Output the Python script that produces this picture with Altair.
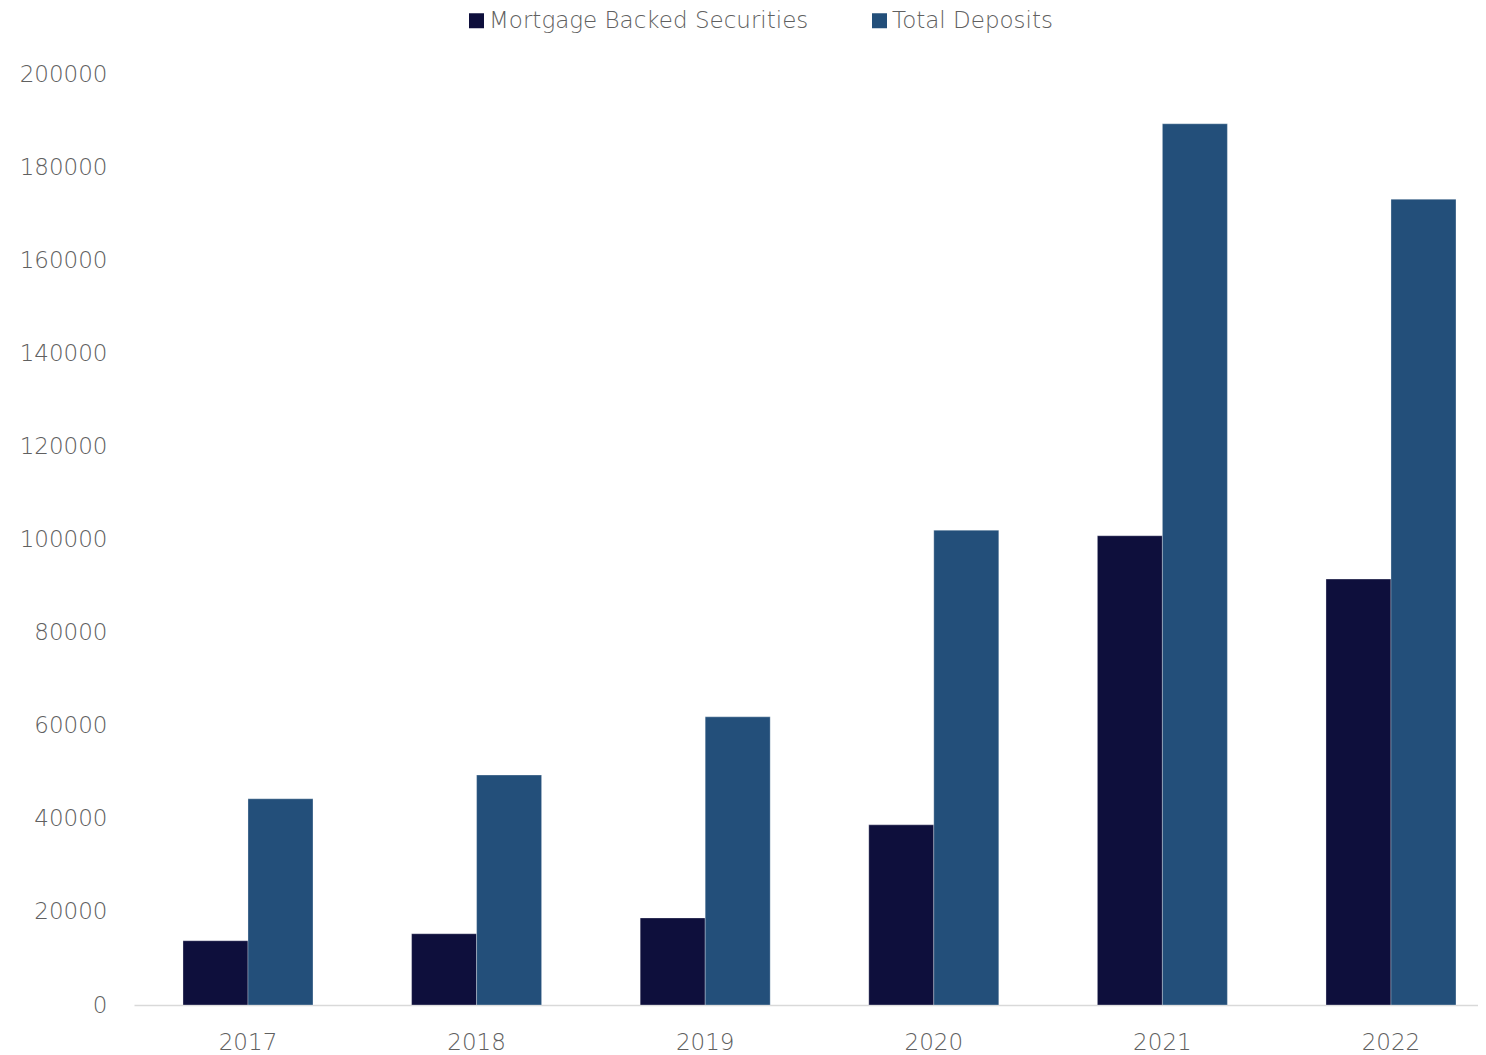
import altair as alt
import pandas as pd

years = ["2017", "2018", "2019", "2020", "2021", "2022"]
mbs = [13800, 15300, 18700, 38700, 100800, 91500]
deposits = [44300, 49400, 61900, 102000, 189300, 173100]
series = ["Mortgage Backed Securities", "Total Deposits"]
colors = ["#0E0F3C", "#234F7A"]
y_ticks = [0, 20000, 40000, 60000, 80000, 100000, 120000, 140000, 160000, 180000, 200000]

rows = []
for i, yr in enumerate(years):
    rows.append({"year": yr, "series": series[0], "value": mbs[i]})
    rows.append({"year": yr, "series": series[1], "value": deposits[i]})
df = pd.DataFrame(rows)

FONT = "DejaVu Sans"
TXT = "#606060"
FS = 23

chart = alt.Chart(df).mark_bar(stroke="#ffffff", strokeWidth=0.6, strokeOpacity=0.5).encode(
    x=alt.X(
        "year:N", sort=years, title=None,
        scale=alt.Scale(paddingInner=0.4313, paddingOuter=0.1553, align=0.69),
        axis=alt.Axis(labelAngle=0, ticks=False, tickSize=0, labelPadding=26,
                      domainColor="#D9D9D9", domainWidth=1.5,
                      labelFontSize=FS, labelColor=TXT, labelFont=FONT, labelFontWeight=300),
    ),
    xOffset=alt.XOffset("series:N", sort=series, scale=alt.Scale(paddingInner=0, paddingOuter=0)),
    y=alt.Y(
        "value:Q", title=None,
        scale=alt.Scale(domain=[0, 200000], nice=False),
        axis=alt.Axis(values=y_ticks, format="d", domain=False, grid=False, ticks=False, tickSize=0,
                      labelPadding=27, labelFontSize=FS, labelColor=TXT, labelFont=FONT,
                      labelFontWeight=300),
    ),
    color=alt.Color(
        "series:N", sort=series,
        scale=alt.Scale(domain=series, range=colors),
        legend=alt.Legend(title=None, orient="none", direction="horizontal",
                          legendX=331, legendY=-65, symbolType="square", symbolSize=225,
                          symbolStrokeWidth=0, labelFontSize=FS, labelOffset=1,
                          columnPadding=59, labelColor=TXT, labelFont=FONT,
                          labelFontWeight=300, labelLimit=600,
                          labelExpr="datum.label == 'Total Deposits' ? '\u00a0\u00a0' + datum.label : datum.label"),
    ),
).properties(
    width=1344, height=931,
    padding={"left": 126, "top": 66, "right": 0, "bottom": 50},
    autosize=alt.AutoSizeParams(type="none"),
).configure_view(stroke=None)

chart.save("out.html", embed_options={"renderer": "svg", "actions": False})
